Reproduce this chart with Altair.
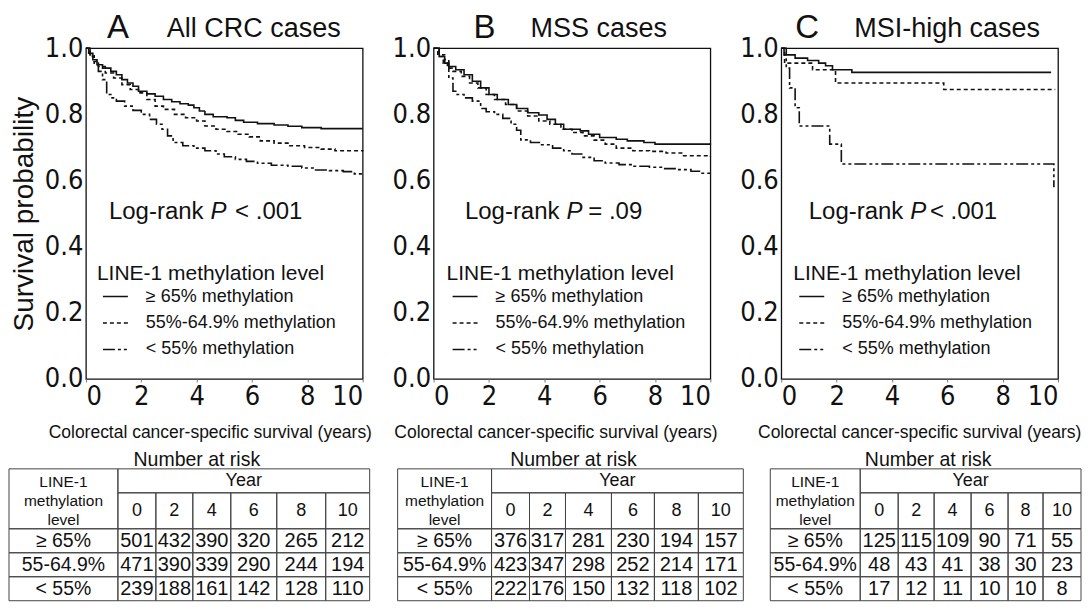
import altair as alt
import pandas as pd

# ------------------------------------------------------------------ data
groups = ["≥ 65% methylation", "55%-64.9% methylation", "< 55% methylation"]
panels = ["A", "B", "C"]
panel_titles = ["All CRC cases", "MSS cases", "MSI-high cases"]
p_texts = ["< .001", "= .09", "< .001"]

# Kaplan-Meier curves (years, survival probability)
A_hi_t = [0, 0.1, 0.25, 0.4, 0.6, 0.9, 1.1, 1.3, 1.5, 1.7, 1.9, 2.2, 2.5, 2.8, 3.1, 3.4, 3.7, 3.9, 4.1, 4.3, 4.6, 5.1, 5.4, 5.7, 6.2, 6.8, 7.3, 7.8, 8.5, 10]
A_hi_s = [1.0, 0.985, 0.965, 0.95, 0.94, 0.93, 0.92, 0.905, 0.895, 0.885, 0.87, 0.862, 0.855, 0.845, 0.838, 0.832, 0.828, 0.82, 0.81, 0.80, 0.793, 0.79, 0.782, 0.776, 0.772, 0.768, 0.764, 0.76, 0.757, 0.757]
A_mid_t = [0, 0.15, 0.3, 0.45, 0.7, 1.0, 1.3, 1.6, 1.9, 2.2, 2.5, 2.8, 3.2, 3.6, 4.0, 4.3, 4.7, 5.1, 5.5, 5.9, 6.3, 6.8, 7.3, 7.9, 8.5, 9.0, 10]
A_mid_s = [1.0, 0.975, 0.96, 0.945, 0.925, 0.91, 0.89, 0.875, 0.865, 0.845, 0.825, 0.815, 0.80, 0.79, 0.78, 0.765, 0.755, 0.748, 0.74, 0.732, 0.72, 0.713, 0.705, 0.70, 0.695, 0.69, 0.688]
A_lo_t = [0, 0.15, 0.3, 0.45, 0.6, 0.75, 0.9, 1.1, 1.4, 1.7, 2.0, 2.3, 2.55, 2.75, 2.95, 3.15, 3.5, 3.9, 4.3, 4.7, 5.0, 5.4, 5.8, 6.2, 6.7, 7.3, 7.8, 8.3, 8.8, 9.3, 9.7, 10]
A_lo_s = [1.0, 0.98, 0.955, 0.93, 0.905, 0.86, 0.85, 0.84, 0.825, 0.812, 0.80, 0.785, 0.77, 0.755, 0.735, 0.715, 0.705, 0.698, 0.69, 0.68, 0.672, 0.664, 0.658, 0.652, 0.646, 0.643, 0.638, 0.632, 0.63, 0.627, 0.62, 0.615]

B_hi_t = [0, 0.2, 0.4, 0.55, 0.8, 1.1, 1.4, 1.7, 2.0, 2.3, 2.7, 3.0, 3.4, 3.8, 4.1, 4.4, 4.7, 5.3, 5.6, 6.0, 6.6, 7.0, 7.6, 8.0, 10]
B_hi_s = [1.0, 0.975, 0.955, 0.945, 0.935, 0.92, 0.90, 0.88, 0.86, 0.845, 0.83, 0.818, 0.805, 0.798, 0.785, 0.77, 0.755, 0.75, 0.74, 0.73, 0.725, 0.72, 0.715, 0.71, 0.708]
B_mid_t = [0, 0.15, 0.35, 0.5, 0.7, 1.0, 1.3, 1.6, 1.9, 2.2, 2.6, 3.0, 3.4, 3.8, 4.2, 4.6, 5.0, 5.4, 5.8, 6.2, 6.6, 7.2, 7.8, 8.4, 9.0, 10]
B_mid_s = [1.0, 0.975, 0.955, 0.94, 0.93, 0.915, 0.895, 0.88, 0.86, 0.845, 0.83, 0.81, 0.795, 0.78, 0.77, 0.755, 0.745, 0.735, 0.722, 0.71, 0.698, 0.69, 0.688, 0.683, 0.675, 0.672]
B_lo_t = [0, 0.2, 0.4, 0.55, 0.7, 0.85, 1.1, 1.4, 1.7, 1.9, 2.2, 2.5, 2.8, 3.0, 3.15, 3.5, 3.9, 4.3, 4.7, 5.0, 5.4, 5.8, 6.2, 6.7, 7.2, 7.8, 8.3, 8.8, 9.3, 9.7, 10]
B_lo_s = [1.0, 0.98, 0.965, 0.91, 0.87, 0.86, 0.85, 0.84, 0.818, 0.808, 0.80, 0.788, 0.77, 0.752, 0.723, 0.715, 0.708, 0.698, 0.69, 0.68, 0.67, 0.66, 0.653, 0.648, 0.643, 0.64, 0.636, 0.633, 0.628, 0.622, 0.618]

C_hi_t = [0, 0.1, 0.5, 0.95, 1.35, 1.6, 1.85, 2.55, 9.75]
C_hi_s = [1.0, 0.98, 0.97, 0.963, 0.955, 0.947, 0.935, 0.927, 0.927]
C_mid_t = [0, 0.12, 1.13, 1.96, 5.87, 9.9]
C_mid_s = [1.0, 0.955, 0.935, 0.895, 0.875, 0.875]
C_lo_t = [0, 0.18, 0.3, 0.5, 0.65, 1.75, 2.17, 9.85]
C_lo_s = [1.0, 0.94, 0.88, 0.82, 0.765, 0.71, 0.65, 0.58]

# Number at risk
risk_years = [0, 2, 4, 6, 8, 10]
risk_groups = ["≥ 65%", "55-64.9%", "< 55%"]
risk_A = [[501, 432, 390, 320, 265, 212], [471, 390, 339, 290, 244, 194], [239, 188, 161, 142, 128, 110]]
risk_B = [[376, 317, 281, 230, 194, 157], [423, 347, 298, 252, 214, 171], [222, 176, 150, 132, 118, 102]]
risk_C = [[125, 115, 109, 90, 71, 55], [48, 43, 41, 38, 30, 23], [17, 12, 11, 10, 10, 8]]

# ------------------------------------------------------------------ tables
curve_sets = {
    "A": [(A_hi_t, A_hi_s), (A_mid_t, A_mid_s), (A_lo_t, A_lo_s)],
    "B": [(B_hi_t, B_hi_s), (B_mid_t, B_mid_s), (B_lo_t, B_lo_s)],
    "C": [(C_hi_t, C_hi_s), (C_mid_t, C_mid_s), (C_lo_t, C_lo_s)],
}
rows = []
for p, sets in curve_sets.items():
    for g, (ts, ss) in zip(groups, sets):
        for t, s in zip(ts, ss):
            rows.append({"panel": p, "grp": g, "t": t, "s": s})
curves = pd.DataFrame(rows)

SANS = "Liberation Sans"
COND = "'Liberation Sans Narrow', 'DejaVu Sans Condensed', 'Arial Narrow', sans-serif"
INK = "#111111"

PW, PH = 277, 331
dashes = [[1, 0], [4, 3], [12, 3, 3, 3, 3, 3]]

# layout (pixels relative to each plot) for the annotations
letter_x = [21, 40, 14]
title_x = [81, 97, 73]
# (end of "Log-rank", start of P, start of the value) in years
logrank_x = [(4.25, 4.5, 5.39), (4.55, 4.8, 5.59), (4.41, 4.66, 5.37)]
xtitle_x = [124, 122, 138]
legend_x = [11, 13, 12]


def panel(i):
    p = panels[i]
    df = curves[curves.panel == p]
    xsc = alt.Scale(domain=[0, 10], nice=False, zero=False)
    ysc = alt.Scale(domain=[0, 1], nice=False, zero=False)
    xaxis = alt.Axis(values=[0, 2, 4, 6, 8, 10], format="d", grid=False, domain=False,
                     tickSize=3, tickColor="#777", labelPadding=2, labelFont=COND,
                     labelFontSize=27, labelColor=INK,
                     title="Colorectal cancer-specific survival (years)",
                     titleFont=SANS, titleFontSize=17.5, titleFontWeight="normal",
                     titleColor=INK, titlePadding=14, titleX=xtitle_x[i])
    yargs = dict(values=[0, 0.2, 0.4, 0.6, 0.8, 1.0], format=".1f", grid=False,
                 domain=False, tickSize=0, labelPadding=3, labelFont=COND,
                 labelFontSize=27, labelColor=INK)
    if i == 0:
        yaxis = alt.Axis(title="Survival probability", titleFont=SANS, titleFontSize=28,
                         titleFontWeight="normal", titleColor=INK, titlePadding=6, **yargs)
    else:
        yaxis = alt.Axis(title=None, **yargs)

    X = alt.X("t:Q", scale=xsc, axis=xaxis)
    Y = alt.Y("s:Q", scale=ysc, axis=yaxis)

    leg = alt.Legend(orient="none", legendX=legend_x[i], legendY=215,
                     title="LINE-1 methylation level", titleFont=SANS, titleFontSize=21,
                     titleFontWeight="normal", titleColor=INK, titlePadding=-1,
                     titleLimit=400, labelLimit=400,
                     labelFont=SANS, labelFontSize=18, labelColor=INK,
                     symbolType="stroke", symbolSize=625, symbolStrokeWidth=1.6,
                     symbolStrokeColor=INK, symbolOffset=5, labelOffset=17,
                     rowPadding=3.5, padding=0)

    lines = alt.Chart(df).mark_line(interpolate="step-after", color=INK, strokeWidth=1.6).encode(
        x=X, y=Y,
        strokeDash=alt.StrokeDash("grp:N", scale=alt.Scale(domain=groups, range=dashes), legend=leg),
        order=alt.Order("t:Q"),
    )

    lx = logrank_x[i]
    lr1 = alt.Chart(pd.DataFrame({"t": [lx[0]], "s": [0.505], "txt": ["Log-rank"]})).mark_text(
        align="right", baseline="middle", font=SANS, fontSize=24, color=INK
    ).encode(x=X, y=Y, text="txt:N")
    lr2 = alt.Chart(pd.DataFrame({"t": [lx[1]], "s": [0.505], "txt": ["P"]})).mark_text(
        align="left", baseline="middle", font=SANS, fontSize=24, fontStyle="italic", color=INK
    ).encode(x=X, y=Y, text="txt:N")
    lr3 = alt.Chart(pd.DataFrame({"t": [lx[2]], "s": [0.505], "txt": [p_texts[i]]})).mark_text(
        align="left", baseline="middle", font=SANS, fontSize=24, color=INK
    ).encode(x=X, y=Y, text="txt:N")

    let = alt.Chart(pd.DataFrame({"txt": [p]})).mark_text(
        align="left", baseline="alphabetic", font=SANS, fontSize=33, color=INK
    ).encode(x=alt.value(letter_x[i]), y=alt.value(-10), text="txt:N")
    ttl = alt.Chart(pd.DataFrame({"txt": [panel_titles[i]]})).mark_text(
        align="left", baseline="alphabetic", font=SANS, fontSize=27, color=INK
    ).encode(x=alt.value(title_x[i]), y=alt.value(-11), text="txt:N")

    return alt.layer(lines, lr1, lr2, lr3, let, ttl).properties(
        width=PW, height=PH,
        view=alt.ViewBackground(stroke=INK, strokeWidth=1.3),
    )


top = alt.hconcat(panel(0), panel(1), panel(2), spacing=71, bounds="flush").resolve_scale(
    strokeDash="independent").resolve_legend(strokeDash="independent")

# ------------------------------------------------------------------ number-at-risk tables
TW, TH = 1075, 153
OFF = 77  # the tables start left of the first plot
edges = {
    "A": [0, 109, 147, 184, 222, 268, 317, 361],
    "B": [389, 483, 521, 557, 603, 646, 690, 735],
    "C": [762, 852, 890, 926, 963, 1000, 1035, 1073],
}
nar_x = [188, 565, 920]
y_nar, y_top, y_year, y_hdr = 11, 20, 44, 80
row_bot = [104, 128, 152]
risk_all = {"A": risk_A, "B": risk_B, "C": risk_C}

cells, texts = [], []
for k, p in enumerate(panels):
    e = edges[p]
    texts.append({"x": nar_x[k], "y": y_nar, "txt": "Number at risk", "fs": 19.5})
    cells.append({"x": e[0], "x2": e[1], "y": y_top, "y2": y_hdr})
    cells.append({"x": e[1], "x2": e[7], "y": y_top, "y2": y_year})
    cx0 = (e[0] + e[1]) / 2
    for txt, yy in zip(["LINE-1", "methylation", "level"], [y_top + 13, y_top + 32, y_top + 51]):
        texts.append({"x": cx0, "y": yy, "txt": txt, "fs": 15.5})
    texts.append({"x": (e[1] + e[7]) / 2, "y": (y_top + y_year) / 2 + 0.5, "txt": "Year", "fs": 18})
    for j, yr in enumerate(risk_years):
        cells.append({"x": e[1 + j], "x2": e[2 + j], "y": y_year, "y2": y_hdr})
        texts.append({"x": (e[1 + j] + e[2 + j]) / 2, "y": (y_year + y_hdr) / 2, "txt": str(yr), "fs": 18})
    prev = y_hdr
    for r, gname in enumerate(risk_groups):
        yb = row_bot[r]
        cells.append({"x": e[0], "x2": e[1], "y": prev, "y2": yb})
        texts.append({"x": cx0, "y": (prev + yb) / 2, "txt": gname, "fs": 19.5})
        for j in range(len(risk_years)):
            cells.append({"x": e[1 + j], "x2": e[2 + j], "y": prev, "y2": yb})
            texts.append({"x": (e[1 + j] + e[2 + j]) / 2, "y": (prev + yb) / 2,
                          "txt": str(risk_all[p][r][j]), "fs": 20})
        prev = yb

cells_df = pd.DataFrame(cells)
texts_df = pd.DataFrame(texts)

tx = alt.Scale(domain=[0, TW], range=[-OFF, TW - OFF], nice=False, zero=False)
ty = alt.Scale(domain=[0, TH], range=[0, TH], nice=False, zero=False)

rects = alt.Chart(cells_df).mark_rect(fillOpacity=0, stroke="#444444", strokeWidth=1).encode(
    x=alt.X("x:Q", scale=tx, axis=None), x2="x2:Q",
    y=alt.Y("y:Q", scale=ty, axis=None), y2="y2:Q",
)
tlabels = alt.Chart(texts_df).mark_text(font=SANS, color=INK, align="center", baseline="middle").encode(
    x=alt.X("x:Q", scale=tx, axis=None),
    y=alt.Y("y:Q", scale=ty, axis=None),
    text="txt:N",
    size=alt.Size("fs:Q", scale=None),
)
table = alt.layer(rects, tlabels).properties(
    width=TW - OFF, height=TH, view=alt.ViewBackground(strokeOpacity=0)
)

chart = alt.vconcat(top, table, spacing=6).properties(
    padding={"left": 0, "top": 3, "right": 0, "bottom": 0}
).configure(font=SANS)

chart.save("out.html", embed_options={"renderer": "svg", "actions": False})
